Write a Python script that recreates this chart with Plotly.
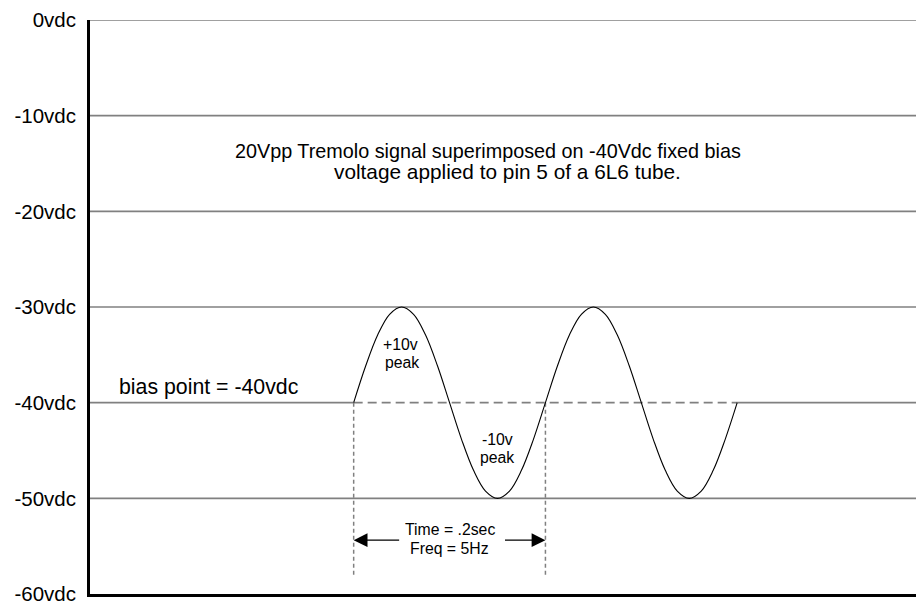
import plotly.graph_objects as go

# ---- data ----
y_ticks = [0, -10, -20, -30, -40, -50, -60]
y_tick_labels = ["0vdc", "-10vdc", "-20vdc", "-30vdc", "-40vdc", "-50vdc", "-60vdc"]
grid_levels = [0, -10, -20, -30, -50]
bias_level = -40

# tremolo signal (time in seconds, volts), read at 1/16-period steps
wave_t = [0.0000, 0.0125, 0.0250, 0.0375, 0.0500, 0.0625, 0.0750, 0.0875,
          0.1000, 0.1125, 0.1250, 0.1375, 0.1500, 0.1625, 0.1750, 0.1875,
          0.2000, 0.2125, 0.2250, 0.2375, 0.2500, 0.2625, 0.2750, 0.2875,
          0.3000, 0.3125, 0.3250, 0.3375, 0.3500, 0.3625, 0.3750, 0.3875, 0.4000]
wave_v = [-40, -36.17, -32.93, -30.76, -30, -30.76, -32.93, -36.17,
          -40, -43.83, -47.07, -49.24, -50, -49.24, -47.07, -43.83,
          -40, -36.17, -32.93, -30.76, -30, -30.76, -32.93, -36.17,
          -40, -43.83, -47.07, -49.24, -50, -49.24, -47.07, -43.83, -40]

period_marks = [0.0, 0.2]          # dashed markers for one period
period_mark_bottom = -58.0

X_MIN, X_MAX = -0.275, 0.5865
FONT = "Liberation Sans, Arial, sans-serif"
GRID = "#808080"

fig = go.Figure()
fig.add_trace(go.Scatter(
    x=wave_t, y=wave_v, mode="lines",
    line=dict(color="black", width=1.1, shape="spline", smoothing=1.0),
    hoverinfo="skip", showlegend=False))

shapes = []
for g in grid_levels:
    shapes.append(dict(type="line", xref="x", yref="y", x0=X_MIN, x1=X_MAX, y0=g, y1=g,
                       line=dict(color=GRID, width=1.7), layer="below"))
# bias line: solid - dashed - solid
shapes.append(dict(type="line", xref="x", yref="y", x0=X_MIN, x1=wave_t[0], y0=bias_level, y1=bias_level,
                   line=dict(color=GRID, width=1.7), layer="below"))
shapes.append(dict(type="line", xref="x", yref="y", x0=wave_t[0], x1=wave_t[-1], y0=bias_level, y1=bias_level,
                   line=dict(color=GRID, width=1.7, dash="9px,5px"), layer="below"))
shapes.append(dict(type="line", xref="x", yref="y", x0=wave_t[-1], x1=X_MAX, y0=bias_level, y1=bias_level,
                   line=dict(color=GRID, width=1.7), layer="below"))
for m in period_marks:
    shapes.append(dict(type="line", xref="x", yref="y", x0=m, x1=m, y0=bias_level, y1=period_mark_bottom,
                       line=dict(color=GRID, width=1.5, dash="4px,3px"), layer="below"))

def txt(x, y, s, size, xanchor="center"):
    return dict(x=x, y=y, xref="x", yref="y", text=s, showarrow=False,
                xanchor=xanchor, yanchor="middle",
                font=dict(family=FONT, size=size, color="black"))

annotations = [
    txt(0.1405, -13.65, "20Vpp Tremolo signal superimposed on -40Vdc fixed bias", 19.8),
    txt(0.1600, -15.83, "voltage applied to pin 5 of a 6L6 tube.", 20.8),
    txt(-0.2468, -38.33, "bias point = -40vdc", 21.3, xanchor="left"),
    txt(0.049, -33.96, "+10v", 15.8),
    txt(0.050, -35.78, "peak", 15.8),
    txt(0.150, -43.85, "-10v", 15.8),
    txt(0.150, -45.68, "peak", 15.8),
    txt(0.100, -53.28, "Time = .2sec", 15.8),
    txt(0.100, -55.26, "Freq = 5Hz", 15.8),
]
arrow_y = -54.375
for tip, tail in [(period_marks[0], 0.049), (period_marks[1], 0.15625)]:
    annotations.append(dict(x=tip, y=arrow_y, ax=tail, ay=arrow_y, xref="x", yref="y",
                            axref="x", ayref="y", text="", showarrow=True,
                            arrowhead=2, arrowsize=2.3, arrowwidth=1.2, arrowcolor="black"))

fig.update_layout(
    width=916, height=605,
    margin=dict(l=90, r=0, t=20, b=9),
    paper_bgcolor="white", plot_bgcolor="white",
    shapes=shapes, annotations=annotations,
    xaxis=dict(range=[X_MIN, X_MAX], showgrid=False, zeroline=False, showticklabels=False,
               ticks="", showline=True, linecolor="black", linewidth=2.8, fixedrange=True),
    yaxis=dict(range=[-60, 0], tickvals=y_ticks, ticktext=y_tick_labels, showgrid=False,
               zeroline=False, ticks="", showline=True, linecolor="black", linewidth=2.8,
               ticklabelstandoff=7, ticklabeloverflow="allow",
               tickfont=dict(family=FONT, size=20.5, color="black"), fixedrange=True),
    showlegend=False,
)

fig.write_html("out.html", config={"displayModeBar": False})

# remove the browser's default page margin so the figure sits at (0, 0)
with open("out.html", "r", encoding="utf-8") as f:
    html = f.read()
html = html.replace("<head>", "<head><style>html,body{margin:0;padding:0;overflow:hidden;}</style>", 1)
with open("out.html", "w", encoding="utf-8") as f:
    f.write(html)
